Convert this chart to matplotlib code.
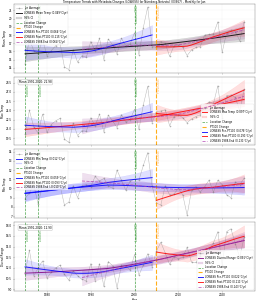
import numpy as np
import matplotlib
matplotlib.use('Agg')
import matplotlib.pyplot as plt
from matplotlib.ticker import MaxNLocator, MultipleLocator
import matplotlib.transforms as mtransforms

years = np.arange(1975, 2026)

# June values 1975..2025
mean_temp = [14.5, 17.5, 16.1, 15.7, 17.5, 15.5, 16.1, 16.7, 17.0, 14.1,
             13.8, 16.2, 14.7, 15.5, 15.3, 17.2, 16.1, 17.6, 15.0, 17.5,
             16.8, 15.7, 17.6, 16.7, 16.9, 18.3, 15.6, 18.9, 21.4, 16.6,
             16.5, 17.2, 17.0, 15.4, 16.7, 16.8, 16.5, 15.5, 16.2, 16.5,
             16.6, 18.0, 18.1, 18.1, 19.6, 15.9, 18.3, 18.6, 18.4, 17.3,
             19.6]
max_temp = [20.1, 24.0, 21.3, 20.3, 23.4, 20.4, 21.7, 22.3, 22.7, 19.3,
            18.8, 21.9, 19.9, 20.7, 20.6, 22.8, 21.5, 23.4, 20.5, 23.2,
            22.3, 21.2, 23.3, 22.1, 22.5, 24.2, 20.9, 24.9, 27.9, 22.0,
            23.8, 23.9, 24.1, 21.5, 23.0, 23.3, 22.8, 22.0, 22.6, 23.0,
            23.3, 24.6, 25.4, 25.1, 28.0, 22.8, 26.4, 26.5, 26.1, 23.9,
            27.4]
min_temp = [8.9, 9.5, 10.4, 8.3, 10.4, 9.8, 10.3, 10.3, 10.3, 8.2,
            8.5, 10.3, 9.0, 10.3, 10.4, 10.2, 11.3, 10.8, 11.1, 10.3,
            10.0, 12.0, 10.9, 9.8, 10.8, 11.0, 10.9, 12.5, 13.9, 10.3,
            8.4, 8.2, 10.3, 9.3, 9.4, 10.0, 9.3, 7.1, 9.8, 10.2,
            9.6, 10.2, 10.9, 9.6, 10.9, 10.4, 9.3, 9.0, 10.7, 10.4,
            11.1]
diurnal = [11.2, 14.5, 10.9, 12.0, 13.0, 10.6, 11.4, 12.0, 12.4, 11.1,
           10.3, 11.6, 10.9, 10.4, 10.2, 12.6, 10.2, 12.6, 9.4, 12.9,
           12.3, 9.2, 12.4, 12.3, 11.7, 13.9, 11.0, 12.4, 14.0, 12.2,
           14.4, 15.6, 14.1, 12.5, 13.6, 13.3, 13.5, 14.9, 12.8, 12.8,
           13.7, 14.4, 14.5, 15.5, 17.1, 12.4, 17.1, 17.5, 15.4, 13.5,
           16.3]

var_names = ['Mean Temp', 'Max Temp', 'Min Temp', 'Diurnal Range']
main_colors = ['black', 'red', 'blue', 'purple']
legend_locs = ['upper left', 'lower right', 'upper left', 'lower right']
mean_boxes = ['', 'Mean 1991-2020: 22.98', '', 'Mean 1991-2020: 12.90']

location_changes = [1975, 1978, 2000]
pt100_change = 2005
late_start = 1988


def lowess_ci(x, y, frac=0.75, iters=3):
    x = np.asarray(x, float)
    y = np.asarray(y, float)
    n = len(x)
    r = int(np.ceil(frac * n))
    rob = np.ones(n)
    for k in range(iters + 1):
        L = np.zeros((n, n))
        for i in range(n):
            d = np.abs(x - x[i])
            h = np.sort(d)[r - 1]
            w = np.clip(1 - (d / h) ** 3, 0, 1) ** 3 * rob
            X = np.column_stack([np.ones(n), x - x[i]])
            XtW = X.T * w
            L[i] = np.linalg.solve(XtW @ X, XtW)[0]
        fit = L @ y
        res = y - fit
        s = np.median(np.abs(res))
        rob = np.clip(1 - (res / (6 * s)) ** 2, 0, 1) ** 2
    sigma = np.sqrt(np.sum(res ** 2) / (n - np.trace(L)))
    se = sigma * np.sqrt(np.sum(L ** 2, axis=1))
    rate = (fit[-1] - fit[0]) / (x[-1] - x[0])
    return fit, fit - 1.96 * se, fit + 1.96 * se, rate


fig, axes = plt.subplots(4, 1, figsize=(13, 15), sharex=True)
fig.subplots_adjust(left=0.054, right=0.981, top=0.987, bottom=0.03, hspace=0.058)

series = [mean_temp, max_temp, min_temp, diurnal]

for ax, vals, name, col, loc, box in zip(axes, series, var_names, main_colors, legend_locs, mean_boxes):
    vals = np.array(vals)

    ax.plot(years, vals, 'o-', color='grey', alpha=0.55, lw=1.8, ms=4.5, label='Jun Average', zorder=2)

    fit, lo, hi, rate = lowess_ci(years, vals)
    ax.plot(years, fit, color=col, lw=3.5, alpha=0.85, label='LOWESS %s (%.3f\u00b0C/yr)' % (name, rate), zorder=4)
    ax.fill_between(years, lo, hi, color=col, alpha=0.15, label='95% CI', zorder=1)

    for i, yr in enumerate(location_changes):
        ax.axvline(yr, color='green', ls='--', lw=2.5, alpha=0.7, label='Location Change' if i == 0 else None)
    ax.axvline(pt100_change, color='orange', ls='--', lw=4, alpha=0.9, label='PT100 Change')

    trans = mtransforms.blended_transform_factory(ax.transData, ax.transAxes)
    for yr in location_changes:
        ax.text(yr + 0.2, 0.98, 'Location %d' % yr, transform=trans, rotation=90,
                va='top', ha='left', fontsize=9, color='green', alpha=0.8)
    ax.text(pt100_change + 0.2, 0.98, 'PT100 %d' % pt100_change, transform=trans, rotation=90,
            va='top', ha='left', fontsize=9, color='darkorange', alpha=0.8)

    pre = years < pt100_change
    fit_p, lo_p, hi_p, rate_p = lowess_ci(years[pre], vals[pre])
    ax.plot(years[pre], fit_p, color='blue', lw=3.5, alpha=0.85, label='LOWESS Pre-PT100 (%.3f\u00b0C/yr)' % rate_p, zorder=5)
    ax.fill_between(years[pre], lo_p, hi_p, color='blue', alpha=0.12, zorder=1)

    post = years >= pt100_change
    fit_q, lo_q, hi_q, rate_q = lowess_ci(years[post], vals[post])
    ax.plot(years[post], fit_q, color='red', lw=3.5, alpha=0.85, label='LOWESS Post-PT100 (%.3f\u00b0C/yr)' % rate_q, zorder=5)
    ax.fill_between(years[post], lo_q, hi_q, color='red', alpha=0.12, zorder=1)

    late = years >= late_start
    fit_l, lo_l, hi_l, rate_l = lowess_ci(years[late], vals[late])
    ax.plot(years[late], fit_l, '--', color='#b040b0', lw=3, alpha=0.8,
            label='LOWESS %d-End (%.3f\u00b0C/yr)' % (late_start, rate_l), zorder=6)
    ax.fill_between(years[late], lo_l, hi_l, color='purple', alpha=0.12, zorder=1)

    if box:
        ax.text(0.02, 0.95, box, transform=ax.transAxes, va='top', fontsize=10,
                bbox=dict(boxstyle='round', facecolor='white', edgecolor='grey', alpha=0.8))

    ax.set_ylabel(name, fontsize=10)
    ax.yaxis.set_major_locator(MaxNLocator(9))
    ax.grid(True, alpha=0.3)
    ax.legend(loc=loc, fontsize=9.5, labelspacing=0.3)

axes[-1].xaxis.set_major_locator(MultipleLocator(10))
axes[-1].set_xlabel('Year', fontsize=10)
axes[0].set_title('Temperature Trends with Metadata Changes (LOWESS) for N\u00fcrnberg-Netzstall (03667) - Monthly for Jun',
                  fontsize=10, pad=3)

fig.savefig('out.png', dpi=20)
